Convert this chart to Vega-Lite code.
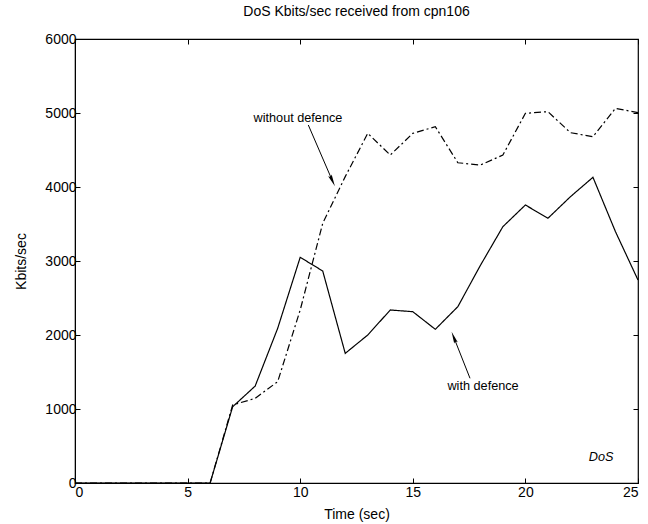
{
  "$schema": "https://vega.github.io/schema/vega-lite/v6.json",
  "width": 563,
  "height": 444,
  "autosize": "none",
  "padding": {"left": 75, "top": 39, "right": 10, "bottom": 41},
  "background": "white",
  "config": {
    "font": "Liberation Sans",
    "view": {"stroke": "black", "strokeWidth": 1.2},
    "axis": {"grid": false, "domainColor": "black", "tickColor": "black", "labelColor": "black", "titleColor": "black", "labelFont": "Liberation Sans", "titleFont": "Liberation Sans", "labelFontSize": 14, "titleFontSize": 14, "titleFontWeight": "normal", "tickSize": -5, "labelPadding": 4, "format": "d"}
  },
  "title": {"text": "DoS Kbits/sec received from cpn106", "fontSize": 14, "fontWeight": "normal", "font": "Liberation Sans", "offset": 13, "color": "black"},
  "datasets": {
    "series": [
      {"t": 0, "v": 0, "s": "with defence"},
      {"t": 1, "v": 0, "s": "with defence"},
      {"t": 2, "v": 0, "s": "with defence"},
      {"t": 3, "v": 0, "s": "with defence"},
      {"t": 4, "v": 0, "s": "with defence"},
      {"t": 5, "v": 0, "s": "with defence"},
      {"t": 6, "v": 0, "s": "with defence"},
      {"t": 7, "v": 1030, "s": "with defence"},
      {"t": 8, "v": 1310, "s": "with defence"},
      {"t": 9, "v": 2090, "s": "with defence"},
      {"t": 10, "v": 3050, "s": "with defence"},
      {"t": 11, "v": 2865, "s": "with defence"},
      {"t": 12, "v": 1752, "s": "with defence"},
      {"t": 13, "v": 2000, "s": "with defence"},
      {"t": 14, "v": 2338, "s": "with defence"},
      {"t": 15, "v": 2315, "s": "with defence"},
      {"t": 16, "v": 2077, "s": "with defence"},
      {"t": 17, "v": 2383, "s": "with defence"},
      {"t": 18, "v": 2940, "s": "with defence"},
      {"t": 19, "v": 3464, "s": "with defence"},
      {"t": 20, "v": 3757, "s": "with defence"},
      {"t": 21, "v": 3577, "s": "with defence"},
      {"t": 22, "v": 3869, "s": "with defence"},
      {"t": 23, "v": 4131, "s": "with defence"},
      {"t": 24, "v": 3396, "s": "with defence"},
      {"t": 25, "v": 2743, "s": "with defence"},
      {"t": 0, "v": 0, "s": "without defence"},
      {"t": 1, "v": 0, "s": "without defence"},
      {"t": 2, "v": 0, "s": "without defence"},
      {"t": 3, "v": 0, "s": "without defence"},
      {"t": 4, "v": 0, "s": "without defence"},
      {"t": 5, "v": 0, "s": "without defence"},
      {"t": 6, "v": 0, "s": "without defence"},
      {"t": 7, "v": 1054, "s": "without defence"},
      {"t": 8, "v": 1144, "s": "without defence"},
      {"t": 9, "v": 1369, "s": "without defence"},
      {"t": 10, "v": 2338, "s": "without defence"},
      {"t": 11, "v": 3509, "s": "without defence"},
      {"t": 12, "v": 4140, "s": "without defence"},
      {"t": 13, "v": 4725, "s": "without defence"},
      {"t": 14, "v": 4432, "s": "without defence"},
      {"t": 15, "v": 4725, "s": "without defence"},
      {"t": 16, "v": 4815, "s": "without defence"},
      {"t": 17, "v": 4328, "s": "without defence"},
      {"t": 18, "v": 4297, "s": "without defence"},
      {"t": 19, "v": 4432, "s": "without defence"},
      {"t": 20, "v": 4996, "s": "without defence"},
      {"t": 21, "v": 5018, "s": "without defence"},
      {"t": 22, "v": 4734, "s": "without defence"},
      {"t": 23, "v": 4680, "s": "without defence"},
      {"t": 24, "v": 5063, "s": "without defence"},
      {"t": 25, "v": 5005, "s": "without defence"}
    ],
    "labels": [
      {"t": 9.9, "v": 4932, "label": "without defence"},
      {"t": 18.12, "v": 1311, "label": "with defence"}
    ],
    "dos": [
      {"t": 23.36, "v": 351, "label": "DoS"}
    ],
    "arrows": [
      {"t1": 10.36, "v1": 4838, "t2": 11.43, "v2": 4084, "hx": 11.43, "hy": 4084, "ang": 155.4},
      {"t1": 17.54, "v1": 1415, "t2": 16.82, "v2": 1969, "hx": 16.82, "hy": 1969, "ang": 338.6}
    ]
  },
  "layer": [
    {
      "data": {"name": "series"},
      "mark": {"type": "line", "color": "black", "strokeWidth": 1.2},
      "encoding": {
        "x": {"field": "t", "type": "quantitative", "scale": {"domain": [0, 25], "nice": false}, "axis": {"title": "Time (sec)", "values": [0, 5, 10, 15, 20, 25], "labelPadding": 7, "titlePadding": 8}},
        "y": {"field": "v", "type": "quantitative", "scale": {"domain": [0, 6000], "nice": false}, "axis": {"title": "Kbits/sec", "values": [0, 1000, 2000, 3000, 4000, 5000, 6000], "titlePadding": 16}},
        "strokeDash": {"field": "s", "type": "nominal", "scale": {"domain": ["with defence", "without defence"], "range": [[1, 0], [7, 3, 2, 3]]}, "legend": null}
      }
    },
    {
      "data": {"name": "series"},
      "mark": {"type": "point", "opacity": 0},
      "encoding": {
        "x": {"field": "t", "type": "quantitative", "axis": {"orient": "top", "labels": false, "title": null, "values": [0, 5, 10, 15, 20, 25], "domain": false}},
        "y": {"field": "v", "type": "quantitative", "axis": {"orient": "right", "labels": false, "title": null, "values": [0, 1000, 2000, 3000, 4000, 5000, 6000], "domain": false}}
      }
    },
    {
      "data": {"name": "labels"},
      "mark": {"type": "text", "color": "black", "fontSize": 12.7, "font": "Liberation Sans", "align": "center", "baseline": "middle"},
      "encoding": {
        "x": {"field": "t", "type": "quantitative", "axis": null},
        "y": {"field": "v", "type": "quantitative", "axis": null},
        "text": {"field": "label"}
      }
    },
    {
      "data": {"name": "dos"},
      "mark": {"type": "text", "color": "black", "fontSize": 12.7, "font": "Liberation Sans", "fontStyle": "italic", "align": "center", "baseline": "middle"},
      "encoding": {
        "x": {"field": "t", "type": "quantitative", "axis": null},
        "y": {"field": "v", "type": "quantitative", "axis": null},
        "text": {"field": "label"}
      }
    },
    {
      "data": {"name": "arrows"},
      "mark": {"type": "rule", "color": "black", "strokeWidth": 1},
      "encoding": {
        "x": {"field": "t1", "type": "quantitative", "axis": null},
        "y": {"field": "v1", "type": "quantitative", "axis": null},
        "x2": {"field": "t2"},
        "y2": {"field": "v2"}
      }
    },
    {
      "data": {"name": "arrows"},
      "mark": {"type": "point", "shape": "M0,-1L-0.32,1L0,0.7L0.32,1Z", "filled": true, "color": "black", "size": 144, "opacity": 1, "strokeWidth": 0},
      "encoding": {
        "x": {"field": "hx", "type": "quantitative", "axis": null},
        "y": {"field": "hy", "type": "quantitative", "axis": null},
        "angle": {"field": "ang", "type": "quantitative", "scale": null}
      }
    }
  ],
  "resolve": {"axis": {"x": "independent", "y": "independent"}}
}
